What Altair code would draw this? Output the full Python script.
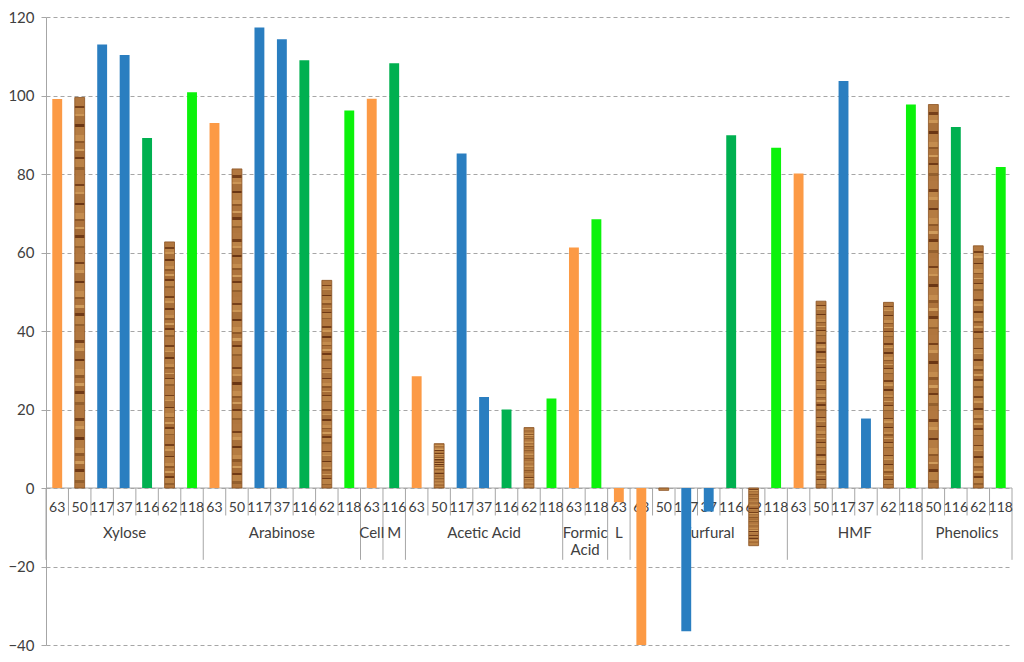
import altair as alt
import pandas as pd

# ---------------- data ----------------
groups = ["Xylose", "Arabinose", "Cell", "M", "Acetic Acid", "Formic Acid",
          "L", "Furfural", "HMF", "Phenolics"]
group_text = [["Xylose"], ["Arabinose"], ["Cell"], ["M"], ["Acetic Acid"],
              ["Formic", "Acid"], ["L"], ["Furfural"], ["HMF"], ["Phenolics"]]
strains = [
    ["63", "50", "117", "37", "116", "62", "118"],
    ["63", "50", "117", "37", "116", "62", "118"],
    ["63"],
    ["116"],
    ["63", "50", "117", "37", "116", "62", "118"],
    ["63", "118"],
    ["63"],
    ["63", "50", "117", "37", "116", "62", "118"],
    ["63", "50", "117", "37", "62", "118"],
    ["50", "116", "62", "118"],
]
values = [
    [99.1, 99.5, 113.0, 110.3, 89.2, 62.7, 100.8],
    [93.0, 81.3, 117.3, 114.3, 109.0, 52.9, 96.2],
    [99.2],
    [108.2],
    [28.5, 11.3, 85.2, 23.2, 20.0, 15.4, 22.8],
    [61.3, 68.5],
    [-3.6],
    [-40.0, -0.6, -36.5, -6.0, 89.9, -14.7, 86.7],
    [80.1, 47.6, 103.7, 17.7, 47.3, 97.7],
    [97.7, 92.0, 61.7, 81.8],
]

solid_strains = ["63", "117", "37", "116", "118"]
solid_colors = ["#FC9A45", "#2A7EC0", "#2A7EC0", "#00B050", "#0BF20B"]
wood_strains = ["50", "62"]

# ---------------- tables ----------------
rows, keys = [], []
grp_first, grp_inner, grp_mid_odd, grp_mid_even = [], [], [], []
for g, gt, ss, vv in zip(groups, group_text, strains, values):
    gkeys = []
    for s, v in zip(ss, vv):
        k = f"{g}|{s}"
        keys.append(k)
        gkeys.append(k)
        rows.append({"key": k, "group": g, "strain": s, "value": v})
    grp_first.append({"key": gkeys[0]})
    for k in gkeys[1:]:
        grp_inner.append({"key": k})
    n = len(gkeys)
    if n % 2 == 1:
        grp_mid_odd.append({"key": gkeys[n // 2], "label": gt})
    else:
        grp_mid_even.append({"key": gkeys[n // 2], "label": gt})

df = pd.DataFrame(rows)
df_first = pd.DataFrame(grp_first)
df_inner = pd.DataFrame(grp_inner)
df_last = pd.DataFrame([{"key": keys[-1]}])
df_mid_odd = pd.DataFrame(grp_mid_odd)
df_mid_even = pd.DataFrame(grp_mid_even)

FONT = "Lato"
GRAY = "#A6A6A6"
TXT = "#404040"

xscale = alt.Scale(domain=keys, paddingInner=0, paddingOuter=0)


def X(band=0.5):
    return alt.X("key:N", scale=xscale, axis=None, bandPosition=band)


yaxis = alt.Axis(values=[-40, -20, 0, 20, 40, 60, 80, 100, 120], title=None,
                 grid=True, gridDash=[4, 3], gridColor=GRAY, gridWidth=1,
                 domainColor=GRAY, tickColor=GRAY, tickSize=5,
                 labelFont=FONT, labelFontSize=15, labelColor=TXT,
                 labelPadding=7)
Y = alt.Y("value:Q", scale=alt.Scale(domain=[-40, 120], nice=False, zero=False),
          axis=yaxis)

# zero (category) axis line
zero_rule = alt.Chart(pd.DataFrame({"z": [0]})).mark_rule(
    color=GRAY, strokeWidth=1).encode(y=alt.datum(0))

inner_ticks = alt.Chart(df_inner).mark_rule(color=GRAY, strokeWidth=1).encode(
    x=X(0), y=alt.datum(0), y2=alt.datum(-7))
group_ticks = alt.Chart(df_first).mark_rule(color=GRAY, strokeWidth=1).encode(
    x=X(0), y=alt.datum(0), y2=alt.datum(-18.3))
end_tick = alt.Chart(df_last).mark_rule(color=GRAY, strokeWidth=1).encode(
    x=X(1), y=alt.datum(0), y2=alt.datum(-18.3))

item_labels = alt.Chart(df).mark_text(
    font=FONT, fontSize=14, color=TXT, baseline="middle", dy=20).encode(
    x=X(0.5), y=alt.datum(0), text="strain:N")

glabel_props = dict(font=FONT, fontSize=15, color=TXT, baseline="top",
                    dy=38, lineHeight=17)
group_labels_odd = alt.Chart(df_mid_odd).mark_text(**glabel_props).encode(
    x=X(0.5), y=alt.datum(0), text="label")
group_labels_even = alt.Chart(df_mid_even).mark_text(**glabel_props).encode(
    x=X(0), y=alt.datum(0), text="label")

bars_solid = alt.Chart(df).transform_filter(
    alt.FieldOneOfPredicate(field="strain", oneOf=solid_strains)
).mark_bar(width=alt.RelativeBandSize(0.44)).encode(
    x=X(0.5), y=Y,
    color=alt.Color("strain:N", scale=alt.Scale(domain=solid_strains,
                                                range=solid_colors),
                    legend=None))

# wood-grain fill: hard-edged horizontal stripes (style only)
wood_pattern = [("#B27840", 3), ("#76401A", 1), ("#BC8448", 2), ("#CC9656", 1),
                ("#A8703A", 3), ("#6A3614", 1), ("#B57C42", 3), ("#C48C4E", 2),
                ("#8E5828", 1), ("#AE743C", 2), ("#D09C5C", 1), ("#A66C36", 2),
                ("#703A16", 1), ("#BA8246", 3), ("#94602E", 1), ("#B0763E", 2)]
tiles = wood_pattern * 5
total = float(sum(w for _, w in tiles))
wood_stops, pos = [], 0.0
for c, w in tiles:
    wood_stops.append(alt.GradientStop(color=c, offset=round(pos / total, 5)))
    pos += w
    wood_stops.append(alt.GradientStop(color=c, offset=round(pos / total, 5)))
wood = alt.LinearGradient(gradient="linear", stops=wood_stops,
                          x1=0, x2=0, y1=0, y2=1)

bars_wood = alt.Chart(df).transform_filter(
    alt.FieldOneOfPredicate(field="strain", oneOf=wood_strains)
).mark_bar(width=alt.RelativeBandSize(0.44), fill=wood,
           stroke="#8A5020", strokeWidth=0.8).encode(
    x=X(0.5), y=Y)

chart = alt.layer(
    zero_rule, inner_ticks, group_ticks, end_tick, item_labels,
    group_labels_odd, group_labels_even, bars_solid, bars_wood,
).properties(
    width=966, height=628,
    autosize=alt.AutoSizeParams(type="none"),
    padding={"left": 38, "top": 9, "right": 2, "bottom": 8},
).configure_view(stroke=None)

chart.save("out.html", embed_options={"renderer": "svg", "actions": False})
